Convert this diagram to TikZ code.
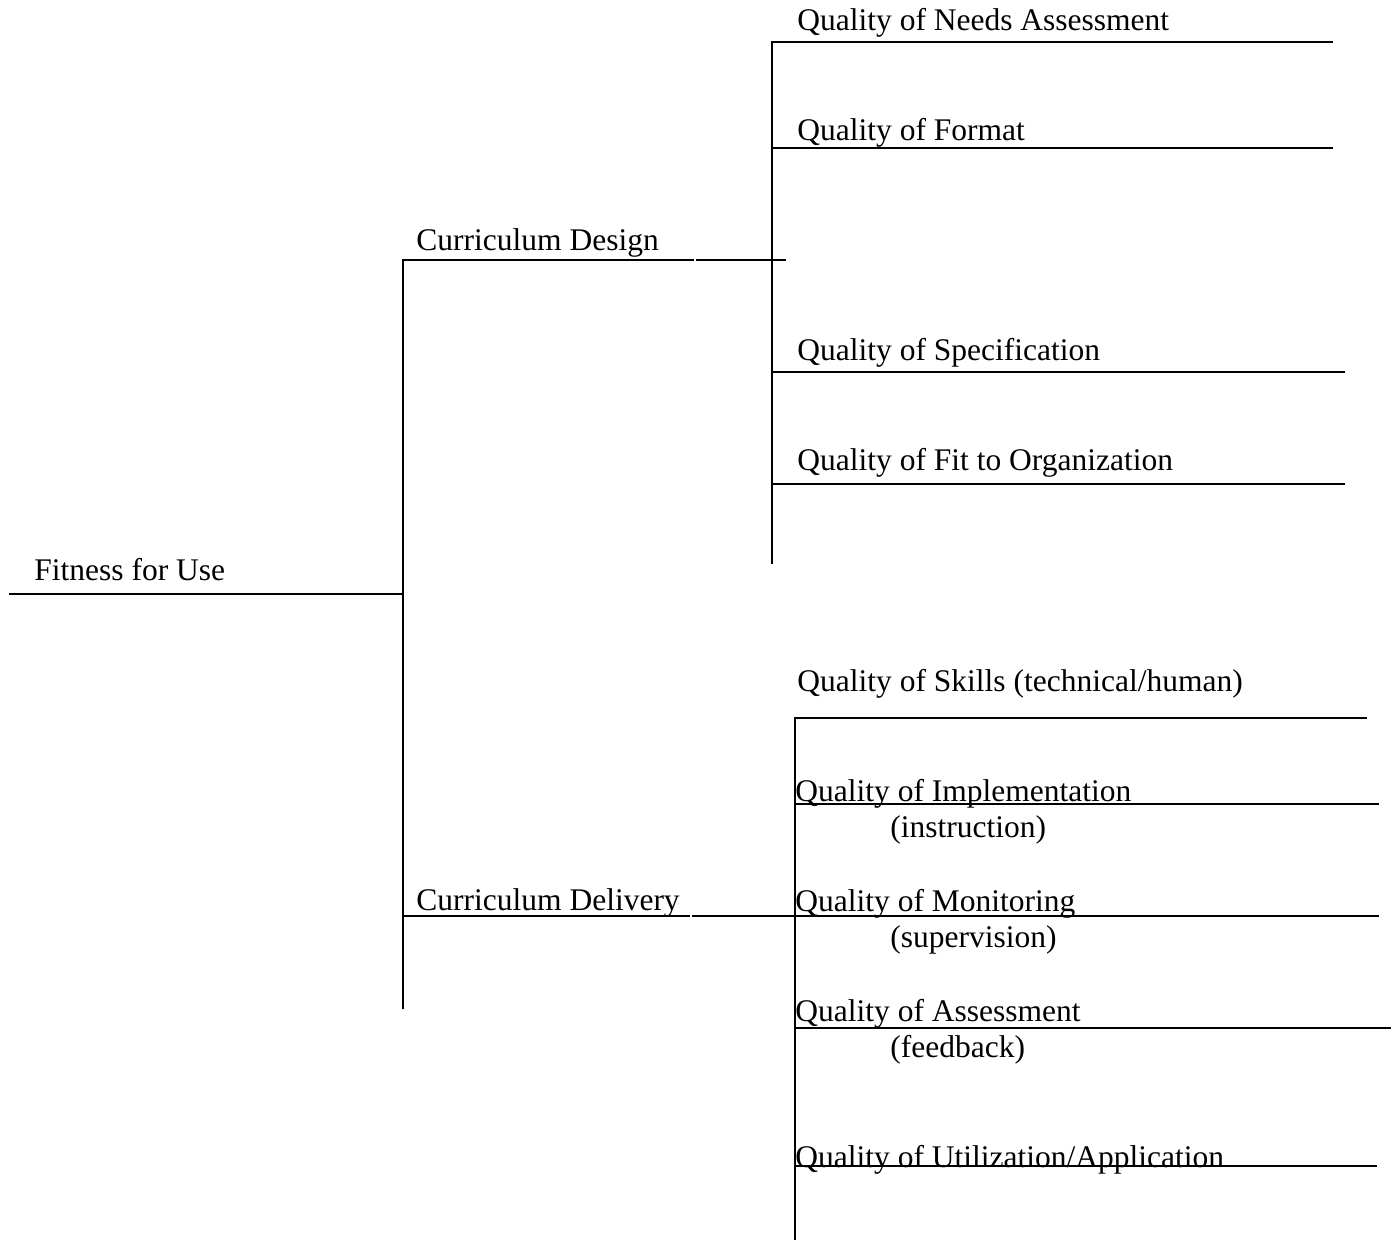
\documentclass[tikz,border=0pt]{standalone}
\usepackage{fontspec}
\setmainfont{Liberation Serif}
\begin{document}
\begin{tikzpicture}[x=0.5pt,y=-0.5pt,
  lbl/.style={anchor=base west,inner sep=0pt,font=\fontsize{15.75pt}{19pt}\selectfont},
  ln/.style={line width=0.75pt,line cap=rect}]
\useasboundingbox (0,0) rectangle (1396,1239);
% texts
\node[lbl] (fit) at (34,580) {Fitness for Use};
\node[lbl] (cd) at (416,250) {Curriculum Design};
\node[lbl] (cdl) at (416,910) {Curriculum Delivery};
\node[lbl] (na) at (797,30) {Quality of Needs Assessment};
\node[lbl] (fo) at (797,140) {Quality of Format};
\node[lbl] (sp) at (797,360) {Quality of Specification};
\node[lbl] (fto) at (797,470) {Quality of Fit to Organization};
\node[lbl] (sk) at (797,691) {Quality of Skills (technical/human)};
\node[lbl] (im) at (795,801) {Quality of Implementation};
\node[lbl] (imb) at (890,837) {(instruction)};
\node[lbl] (mo) at (795,911) {Quality of Monitoring};
\node[lbl] (mob) at (890,947) {(supervision)};
\node[lbl] (as) at (795,1021) {Quality of Assessment};
\node[lbl] (asb) at (890,1057) {(feedback)};
\node[lbl] (ut) at (795,1167) {Quality of Utilization/Application};
% coordinates
\coordinate (r0) at (10,594);
\coordinate (r1) at (403,594);
\coordinate (v1t) at (403,260);
\coordinate (v1b) at (403,1008);
\coordinate (cdg1) at (693,260);
\coordinate (cdg2) at (697,260);
\coordinate (cde) at (785,260);
\coordinate (dlt) at (403,916);
\coordinate (dlg1) at (689,916);
\coordinate (dlg2) at (693,916);
\coordinate (dle) at (795,916);
\coordinate (v2t) at (772,42);
\coordinate (v2b) at (772,563);
\coordinate (v3t) at (795,718);
\coordinate (v3b) at (795,1239);
\coordinate (naL) at (772,42);   \coordinate (naR) at (1332,42);
\coordinate (foL) at (772,148);  \coordinate (foR) at (1332,148);
\coordinate (spL) at (772,372);  \coordinate (spR) at (1344,372);
\coordinate (ftL) at (772,484);  \coordinate (ftR) at (1344,484);
\coordinate (skL) at (795,718);  \coordinate (skR) at (1366,718);
\coordinate (imL) at (795,804);  \coordinate (imR) at (1378,804);
\coordinate (moL) at (795,916);  \coordinate (moR) at (1378,916);
\coordinate (asL) at (795,1028); \coordinate (asR) at (1390,1028);
\coordinate (utL) at (795,1166); \coordinate (utR) at (1376,1166);
% lines
\draw[ln] (r0) -- (r1);
\draw[ln] (v1t) -- (v1b);
\draw[ln] (v1t) -- (cdg1);
\draw[ln] (cdg2) -- (cde);
\draw[ln] (dlt) -- (dlg1);
\draw[ln] (dlg2) -- (dle);
\draw[ln] (v2t) -- (v2b);
\draw[ln] (v3t) -- (v3b);
\draw[ln] (naL) -- (naR);
\draw[ln] (foL) -- (foR);
\draw[ln] (spL) -- (spR);
\draw[ln] (ftL) -- (ftR);
\draw[ln] (skL) -- (skR);
\draw[ln] (imL) -- (imR);
\draw[ln] (moL) -- (moR);
\draw[ln] (asL) -- (asR);
\draw[ln] (utL) -- (utR);
\end{tikzpicture}
\end{document}
